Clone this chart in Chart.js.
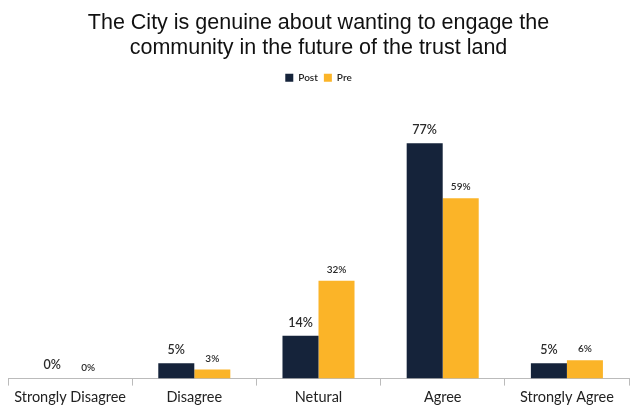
<!DOCTYPE html>
<html>
<head>
<meta charset="utf-8">
<script src="https://cdn.jsdelivr.net/npm/chart.js@4"></script>
<style>
  html, body { margin: 0; padding: 0; background: #fff; }
  #wrap { width: 635px; height: 409px; }
</style>
</head>
<body>
<div id="wrap"><canvas id="engageChart"></canvas></div>
<script>
var categories = ["Strongly Disagree", "Disagree", "Netural", "Agree", "Strongly Agree"];
var postValues = [0, 5, 14, 77, 5];
var preValues = [0, 3, 32, 59, 6];
var titleLines = ["The City is genuine about wanting to engage the", "community in the future of the trust land"];

// percent labels above each bar
var barLabels = {
    id: 'barLabels',
    afterDatasetsDraw: function(chart) {
        var ctx = chart.ctx;
        ctx.save();
        ctx.textAlign = 'center';
        ctx.textBaseline = 'bottom';
        chart.data.datasets.forEach(function(ds, i) {
            var meta = chart.getDatasetMeta(i);
            ctx.fillStyle = '#2a2a2a';
            ctx.font = i == 0 ? '600 12.5px Lato, "Open Sans", sans-serif' : '600 10px Lato, "Open Sans", sans-serif';
            meta.data.forEach(function(bar, j) {
                ctx.fillText(ds.data[j] + '%', bar.x, bar.y - (i == 0 ? 7 : 6));
            });
        });
        ctx.restore();
    }
};

var chartContainer = document.getElementById("engageChart");
var engageChart = new Chart(chartContainer, {
    type: 'bar',
    data: {
        labels: categories,
        datasets: [{
            label: "Post",
            data: postValues,
            backgroundColor: "#15233A",
            barPercentage: 1,
            categoryPercentage: 0.58
        }, {
            label: "Pre",
            data: preValues,
            backgroundColor: "#FBB428",
            barPercentage: 1,
            categoryPercentage: 0.58
        }]
    },
    options: {
        responsive: true,
        maintainAspectRatio: false,
        animation: false,
        layout: { padding: { left: 8, right: 6, top: 6, bottom: 0 } },
        plugins: {
            title: {
                display: true,
                text: titleLines,
                color: '#111',
                font: { family: '"Liberation Sans", Arial, sans-serif', size: 21.5, weight: 'normal', lineHeight: 1.18 },
                padding: { top: 4, bottom: 6 }
            },
            legend: {
                display: true,
                labels: {
                    boxWidth: 8,
                    boxHeight: 8,
                    color: '#222',
                    font: { family: 'Lato, "Open Sans", sans-serif', size: 10, weight: '600' },
                    padding: 6
                }
            },
            tooltip: { enabled: false }
        },
        scales: {
            x: {
                grid: { display: true, drawOnChartArea: false, offset: true, tickLength: 7, color: '#bbb' },
                border: { display: true, color: '#bbb' },
                ticks: {
                    color: '#222',
                    font: { family: 'Lato, "Open Sans", sans-serif', size: 14.5 },
                    padding: 3
                }
            },
            y: {
                display: false,
                min: 0,
                max: 93.5
            }
        }
    },
    plugins: [barLabels]
});
</script>
</body>
</html>
